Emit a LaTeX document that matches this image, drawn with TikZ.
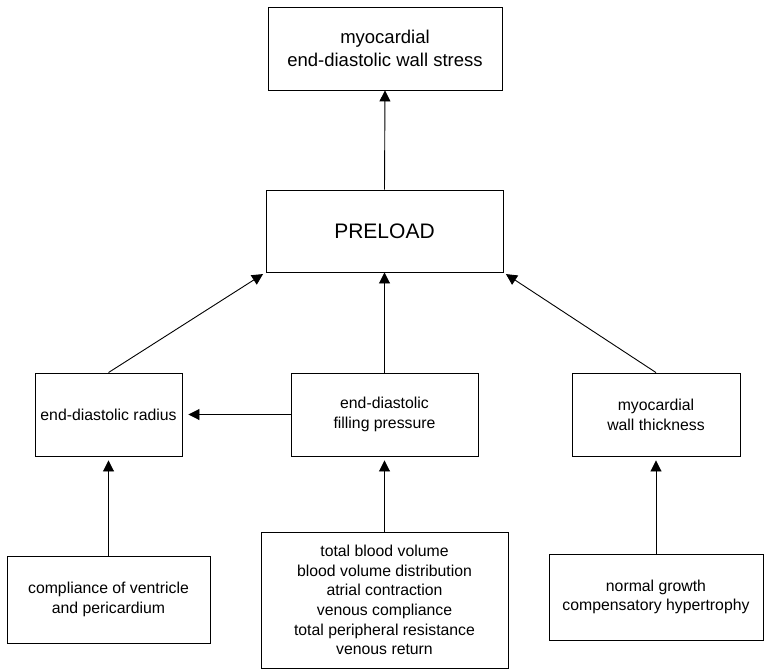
\documentclass[tikz,border=0pt]{standalone}
\usepackage{fontspec}
\setmainfont{Liberation Sans}
\usetikzlibrary{arrows.meta}
\begin{document}
\begin{tikzpicture}[x=1pt,y=-1pt,
  box/.style={draw, line width=0.9pt, align=center, inner sep=0pt},
  small/.style={font=\fontsize{15.8}{19.7}\selectfont},
  arr/.style={-{Triangle[length=11pt,width=11pt]}, line width=0.9pt}]
\useasboundingbox (0,0) rectangle (764,670);
\node[box, minimum width=234pt, minimum height=83pt, font=\fontsize{18.5}{23.5}\selectfont] (top) at (385,48.5) {myocardial\\end-diastolic wall stress};
\node[box, minimum width=237pt, minimum height=82pt, font=\fontsize{21}{25}\selectfont] (pre) at (384.5,231) {PRELOAD};
\node[box, small, minimum width=147pt, minimum height=83pt] (rad) at (108.5,414.5) {end-diastolic radius};
\node[box, small, minimum width=187pt, minimum height=83pt] (fil) at (384.5,414.5) {end-diastolic\\filling pressure};
\node[box, small, minimum width=168pt, minimum height=83pt] (wal) at (656,414.5) {myocardial\\wall thickness};
\node[box, small, minimum width=203pt, minimum height=87pt] (com) at (108.5,599.5) {compliance of ventricle\\and pericardium};
\node[box, small, minimum width=247pt, minimum height=136pt] (tot) at (384.5,600) {total blood volume\\blood volume distribution\\atrial contraction\\venous compliance\\total peripheral resistance\\venous return};
\node[box, small, minimum width=214pt, minimum height=86pt] (nor) at (656,597) {normal growth\\compensatory hypertrophy};
\draw[arr] (pre.north) -- (top.south);
\draw[arr, shorten >=3pt] (rad.north) -- (pre.south west);
\draw[arr] (fil.north) -- (pre.south);
\draw[arr, shorten >=3pt] (wal.north) -- (pre.south east);
\draw[arr, shorten >=6pt] (fil.west) -- (rad.east);
\draw[arr, shorten >=4pt] (com.north) -- (rad.south);
\draw[arr, shorten >=4pt] (tot.north) -- (fil.south);
\draw[arr, shorten >=4pt] (nor.north) -- (wal.south);
\end{tikzpicture}
\end{document}
